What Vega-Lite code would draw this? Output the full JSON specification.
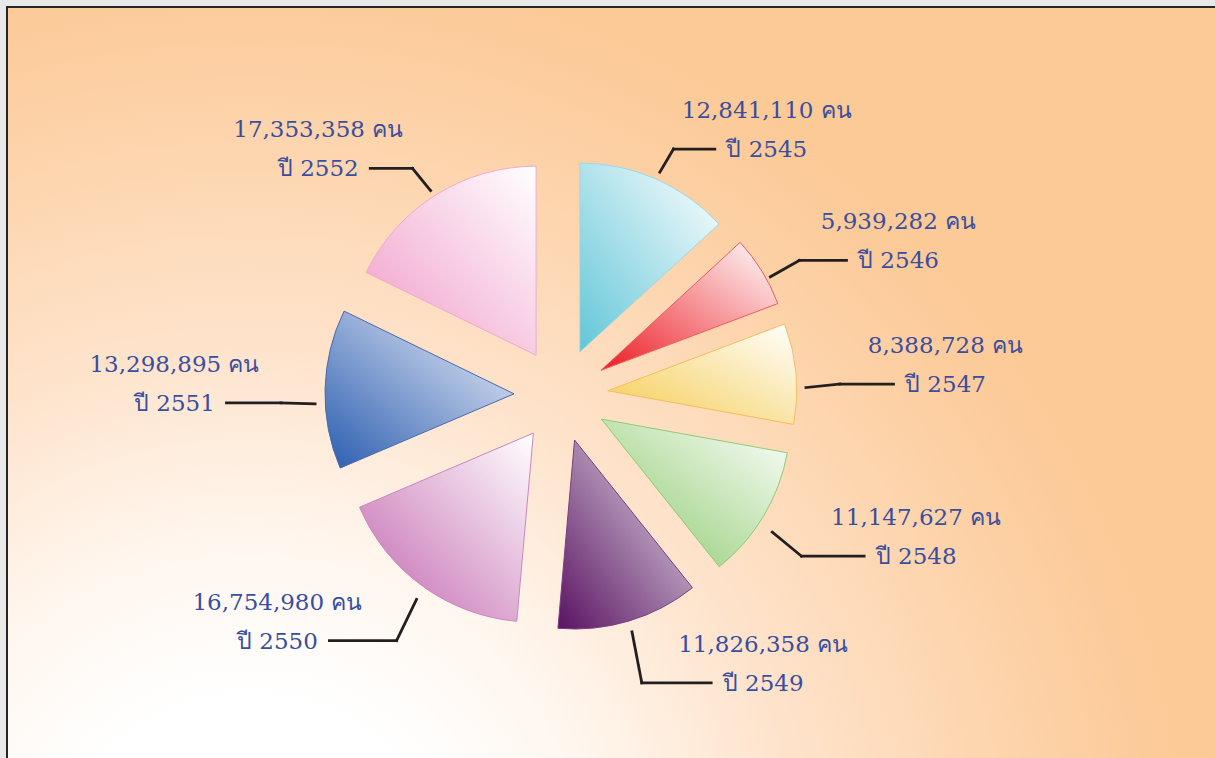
{
  "$schema": "https://vega.github.io/schema/vega-lite/v6.json",
  "width": 1208,
  "height": 751,
  "autosize": {"type": "none"},
  "padding": {"left": 7, "top": 7, "right": 0, "bottom": 0},
  "background": "#e9e9e9",
  "config": {
    "view": {
      "stroke": "#262626",
      "strokeWidth": 2,
      "strokeDash": [1208, 1959, 751],
      "fill": {
        "gradient": "radial",
        "x1": 0.2012, "y1": 0.9284, "r1": 0,
        "x2": 0.2012, "y2": 0.9284, "r2": 0.7947,
        "stops": [
          {"offset": 0, "color": "#ffffff"},
          {"offset": 0.21, "color": "#ffffff"},
          {"offset": 0.375, "color": "#fff6ee"},
          {"offset": 0.58, "color": "#fee3cb"},
          {"offset": 0.83, "color": "#fdd2a8"},
          {"offset": 0.94, "color": "#fccb9a"},
          {"offset": 1, "color": "#fcca96"}
        ]
      }
    }
  },
  "data": {
    "values": [
      {"year": 2545, "value": 12841110},
      {"year": 2546, "value": 5939282},
      {"year": 2547, "value": 8388728},
      {"year": 2548, "value": 11147627},
      {"year": 2549, "value": 11826358},
      {"year": 2550, "value": 16754980},
      {"year": 2551, "value": 13298895},
      {"year": 2552, "value": 17353358}
    ]
  },
  "transform": [
    {"joinaggregate": [{"op": "sum", "field": "value", "as": "total"}]},
    {"stack": "value", "groupby": [], "sort": [{"field": "year", "order": "ascending"}], "as": ["v0", "v1"]},
    {"calculate": "PI*(datum.v0+datum.v1)/datum.total", "as": "mid"},
    {"calculate": "47*sin(datum.mid)", "as": "ex"},
    {"calculate": "47*cos(datum.mid)", "as": "ey"},
    {"calculate": "246*sin(datum.mid)", "as": "sx"},
    {"calculate": "246*cos(datum.mid) - 15*sin(datum.mid)*sin(datum.mid)", "as": "sy"},
    {"calculate": "280*sin(datum.mid)", "as": "kx"},
    {"calculate": "285*cos(datum.mid) - 15", "as": "ky"},
    {"calculate": "datum.kx >= 0 ? 1 : -1", "as": "side"},
    {"calculate": "datum.kx + datum.side*(55 - 15*cos(datum.mid))", "as": "hx"},
    {"calculate": "datum.hx + datum.side*52", "as": "tx"},
    {"calculate": "format(datum.value, ',') + ' คน'", "as": "label1"},
    {"calculate": "'ปี ' + datum.year", "as": "label2"}
  ],
  "layer": [
    {
      "mark": {"type": "arc", "radius": 189, "strokeWidth": 1},
      "encoding": {
        "theta": {"field": "v0", "type": "quantitative", "scale": {"domain": [0, 97550338], "nice": false}},
        "theta2": {"field": "v1"},
        "x": {"field": "ex", "type": "quantitative", "scale": {"domain": [-554, 654], "nice": false, "zero": false}, "axis": null},
        "y": {"field": "ey", "type": "quantitative", "scale": {"domain": [-363, 388], "nice": false, "zero": false}, "axis": null},
        "fill": {
          "condition": [
            {"test": "datum.year === 2545", "value": {"gradient": "linear", "x1": 0, "y1": 1, "x2": 1, "y2": 0, "stops": [{"offset": 0, "color": "#62c6d8"}, {"offset": 1, "color": "#ffffff"}]}},
            {"test": "datum.year === 2546", "value": {"gradient": "linear", "x1": 0, "y1": 1, "x2": 1, "y2": 0, "stops": [{"offset": 0, "color": "#ec1c24"}, {"offset": 1, "color": "#ffffff"}]}},
            {"test": "datum.year === 2547", "value": {"gradient": "linear", "x1": 0, "y1": 1, "x2": 1, "y2": 0, "stops": [{"offset": 0, "color": "#f5cb4f"}, {"offset": 1, "color": "#ffffff"}]}},
            {"test": "datum.year === 2548", "value": {"gradient": "linear", "x1": 0, "y1": 1, "x2": 1, "y2": 0, "stops": [{"offset": 0, "color": "#86c765"}, {"offset": 1, "color": "#ffffff"}]}},
            {"test": "datum.year === 2549", "value": {"gradient": "linear", "x1": 0, "y1": 1, "x2": 1, "y2": 0, "stops": [{"offset": 0, "color": "#5a1262"}, {"offset": 1, "color": "#e6e4ea"}]}},
            {"test": "datum.year === 2550", "value": {"gradient": "linear", "x1": 0, "y1": 1, "x2": 1, "y2": 0, "stops": [{"offset": 0, "color": "#c265ae"}, {"offset": 1, "color": "#ffffff"}]}},
            {"test": "datum.year === 2551", "value": {"gradient": "linear", "x1": 0, "y1": 1, "x2": 1, "y2": 0, "stops": [{"offset": 0, "color": "#2a5db0"}, {"offset": 1, "color": "#f2f3fa"}]}}
          ],
          "value": {"gradient": "linear", "x1": 0, "y1": 1, "x2": 1, "y2": 0, "stops": [{"offset": 0, "color": "#f09ac8"}, {"offset": 1, "color": "#ffffff"}]}
        },
        "stroke": {
          "condition": [
            {"test": "datum.year === 2545", "value": "#9ed8e2"},
            {"test": "datum.year === 2546", "value": "#ee5a5e"},
            {"test": "datum.year === 2547", "value": "#f3be5e"},
            {"test": "datum.year === 2548", "value": "#8fcb72"},
            {"test": "datum.year === 2549", "value": "#7b3f80"},
            {"test": "datum.year === 2550", "value": "#cc86bf"},
            {"test": "datum.year === 2551", "value": "#4a68b0"}
          ],
          "value": "#f2aacf"
        }
      }
    },
    {
      "mark": {"type": "rule", "color": "#231f20", "strokeWidth": 2.8, "strokeCap": "square"},
      "encoding": {
        "x": {"field": "sx", "type": "quantitative", "scale": {"domain": [-554, 654], "nice": false, "zero": false}, "axis": null},
        "y": {"field": "sy", "type": "quantitative", "scale": {"domain": [-363, 388], "nice": false, "zero": false}, "axis": null},
        "x2": {"field": "kx"},
        "y2": {"field": "ky"}
      }
    },
    {
      "mark": {"type": "rule", "color": "#231f20", "strokeWidth": 2.8, "strokeCap": "square"},
      "encoding": {
        "x": {"field": "kx", "type": "quantitative", "scale": {"domain": [-554, 654], "nice": false, "zero": false}, "axis": null},
        "y": {"field": "ky", "type": "quantitative", "scale": {"domain": [-363, 388], "nice": false, "zero": false}, "axis": null},
        "x2": {"field": "hx"}
      }
    },
    {
      "mark": {"type": "text", "font": "DejaVu Serif", "fontSize": 23, "color": "#3a4e9f", "align": "center", "baseline": "middle", "dy": 1},
      "encoding": {
        "x": {"field": "tx", "type": "quantitative", "scale": {"domain": [-554, 654], "nice": false, "zero": false}, "axis": null},
        "y": {"field": "ky", "type": "quantitative", "scale": {"domain": [-363, 388], "nice": false, "zero": false}, "axis": null},
        "text": {"field": "label2", "type": "nominal"}
      }
    },
    {
      "mark": {"type": "text", "font": "DejaVu Serif", "fontSize": 23, "color": "#3a4e9f", "align": "center", "baseline": "middle", "dy": -38},
      "encoding": {
        "x": {"field": "tx", "type": "quantitative", "scale": {"domain": [-554, 654], "nice": false, "zero": false}, "axis": null},
        "y": {"field": "ky", "type": "quantitative", "scale": {"domain": [-363, 388], "nice": false, "zero": false}, "axis": null},
        "text": {"field": "label1", "type": "nominal"}
      }
    }
  ]
}
